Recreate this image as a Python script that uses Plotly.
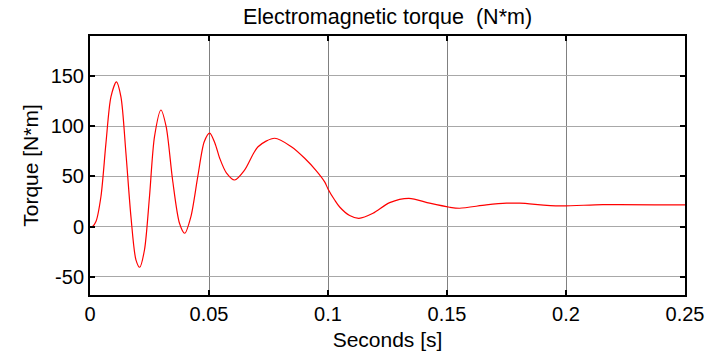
import plotly.graph_objects as go

time_s = [0, 0.0012, 0.0025, 0.0046, 0.0067, 0.0088, 0.0111, 0.013, 0.0151, 0.0172,
          0.0193, 0.0209, 0.0229, 0.025, 0.0271, 0.0298, 0.032, 0.0347, 0.0376, 0.0398,
          0.0424, 0.0453, 0.048, 0.0503, 0.0525, 0.0545, 0.0573, 0.0608, 0.065, 0.0706, 0.0776,
          0.0846, 0.0902, 0.0951, 0.0986, 0.1, 0.1028, 0.1049, 0.1091, 0.113, 0.1189,
          0.1259, 0.134, 0.1427, 0.1511, 0.1553, 0.1665, 0.175, 0.1805, 0.1973, 0.2155, 0.25]
torque = [0, 0.5, 5, 30, 83, 129, 144, 129, 73, 10,
          -33, -40.4, -23, 30, 89.5, 116, 99.4, 46.4, 3.4, -6.6,
          10, 50, 84.5, 93, 83, 68, 53.5, 46.4, 56.4, 79.5, 87.9,
          79.5, 68, 55.5, 44.5, 37.5, 26.5, 19.5, 11, 8.3, 13.3,
          23.9, 28.2, 23.3, 19.3, 18.3, 21.6, 23.3, 23.3, 20.6, 21.9, 21.6]

x_ticks = [0, 0.05, 0.1, 0.15, 0.2, 0.25]
x_tick_labels = ["0", "0.05", "0.1", "0.15", "0.2", "0.25"]
y_ticks = [-50, 0, 50, 100, 150]
y_tick_labels = ["-50", "0", "50", "100", "150"]

FONT = "Liberation Sans, Arial, sans-serif"

fig = go.Figure()
fig.add_trace(go.Scatter(x=time_s, y=torque, mode="lines",
                         line=dict(color="#ff0000", width=1.2, shape="spline", smoothing=0.8),
                         showlegend=False, hoverinfo="skip"))

fig.update_layout(
    width=711, height=356,
    margin=dict(l=90, r=26, t=36, b=61, autoexpand=False),
    paper_bgcolor="white", plot_bgcolor="white",
    font=dict(family=FONT, color="black", size=20),
    title=dict(text="Electromagnetic torque  (N*m)", x=0.5, xref="paper",
               y=1, yref="container", yanchor="top", pad=dict(t=9),
               font=dict(family=FONT, size=21.5, color="black")),
)
fig.update_xaxes(range=[0, 0.25], tickvals=x_ticks, ticktext=x_tick_labels,
                 showgrid=True, gridcolor="#808080", gridwidth=1,
                 showline=True, linecolor="black", linewidth=2, mirror="ticks",
                 ticks="inside", ticklen=5, tickcolor="black", tickwidth=2,
                 zeroline=False, tickfont=dict(size=20), automargin=False,
                 title=dict(text="Seconds [s]", font=dict(size=21), standoff=8))
fig.update_yaxes(range=[-68, 189.6], tickvals=y_ticks, ticktext=y_tick_labels,
                 showgrid=True, gridcolor="#a8a8a8", gridwidth=1,
                 showline=True, linecolor="black", linewidth=2, mirror="ticks",
                 ticks="inside", ticklen=5, tickcolor="black", tickwidth=2,
                 zeroline=False, tickfont=dict(size=20), automargin=False,
                 title=dict(text="Torque [N*m]", font=dict(size=21), standoff=6))

fig.write_html("out.html", config={"displayModeBar": False},
               post_script="document.body.style.margin='0';document.body.style.padding='0';")
